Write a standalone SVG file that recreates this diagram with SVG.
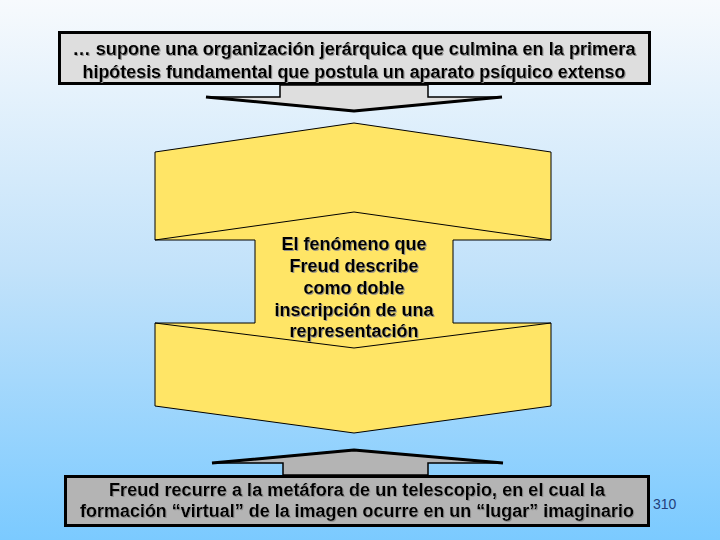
<svg xmlns="http://www.w3.org/2000/svg" width="720" height="540" viewBox="0 0 720 540">
<defs>
<linearGradient id="bg" x1="0" y1="0" x2="0" y2="1">
<stop offset="0" stop-color="#f7fafd"/>
<stop offset="0.5" stop-color="#c2e2fa"/>
<stop offset="1" stop-color="#7bcaff"/>
</linearGradient>
<filter id="sh" x="-5%" y="-20%" width="110%" height="140%">
<feDropShadow dx="1" dy="1" stdDeviation="0.3" flood-color="#8a8a8a" flood-opacity="0.9"/>
</filter>
<style>
.t{font-family:"Liberation Sans",Arial,sans-serif;font-weight:bold;font-size:18px;fill:#000;text-anchor:middle;filter:url(#sh)}
.box{stroke:#000;stroke-width:3}
.yl{fill:#ffe566;stroke:#000;stroke-width:1}
.ln{fill:none;stroke:#000;stroke-width:1}
.thick{fill:none;stroke:#000;stroke-width:3;stroke-linejoin:round}
</style>
</defs>
<rect x="0" y="0" width="720" height="540" fill="url(#bg)"/>

<g id="top-box">
<rect class="box" x="59.5" y="32.5" width="590" height="51" fill="#dedede"/>
<text class="t" x="354" y="55" textLength="563" lengthAdjust="spacingAndGlyphs">… supone una organización jerárquica  que culmina en la primera</text>
<text class="t" x="354" y="78" textLength="543" lengthAdjust="spacingAndGlyphs">hipótesis fundamental que postula un aparato psíquico extenso</text>
</g>

<g id="connectors">
<g id="down-arrow">
<polygon points="280,85 428,85 428,97 502,97 354,111 206,97 280,97" fill="#dedede" stroke="#000" stroke-width="1.5"/>
<polyline class="thick" points="206,97 354,111 502,97"/>
</g>
<g id="up-arrow">
<polygon points="283,475 283,463 212,463 354,450 503,463 428,463 428,475" fill="#b4b4b4" stroke="#000" stroke-width="1.5"/>
<polyline class="thick" points="212,463 354,450 503,463"/>
</g>
</g>

<g id="center-node">
<polygon class="yl" points="155,152 354,123 551,152 551,240 453,240 453,323 551,323 551,406 354,433 155,406 155,323 255,323 255,240 155,240"/>
<polyline class="ln" points="155,240 354,212 551,240"/>
<polyline class="ln" points="155,323 354,348 551,323"/>
<text class="t" x="354" y="249.5">El fenómeno que</text>
<text class="t" x="354" y="271.5">Freud describe</text>
<text class="t" x="354" y="293.5">como doble</text>
<text class="t" x="354" y="315.5">inscripción de una</text>
<text class="t" x="354" y="337">representación</text>
</g>

<g id="bottom-box">
<rect class="box" x="65.5" y="476.5" width="583" height="49" fill="#b4b4b4"/>
<text class="t" x="357" y="496" textLength="496" lengthAdjust="spacingAndGlyphs">Freud recurre a la metáfora de un telescopio, en el cual la</text>
<text class="t" x="357" y="517" textLength="554" lengthAdjust="spacingAndGlyphs">formación “virtual” de la imagen ocurre en un “lugar” imaginario</text>
</g>

<text x="653" y="509" font-family="Liberation Sans,Arial,sans-serif" font-size="14" fill="#23407a">310</text>
</svg>
